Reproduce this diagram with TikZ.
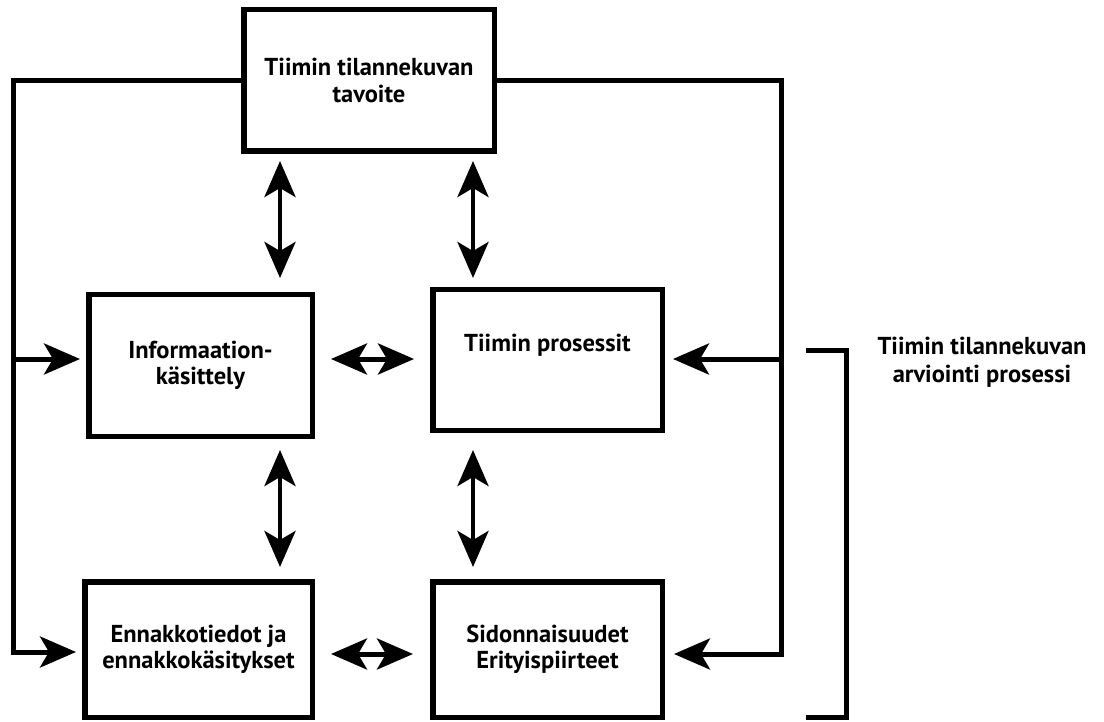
\documentclass[tikz,border=0pt]{standalone}
\usepackage{fontspec}
\setmainfont{PT Sans}
\usetikzlibrary{arrows.meta,calc}
\tikzset{
  box/.style={draw, line width=5.5pt, rectangle, align=center, inner sep=0pt,
    font=\bfseries\fontsize{24.5}{26.5}\selectfont},
  link/.style={line width=5pt, line join=miter},
  vlink/.style={line width=4.5pt},
  head/.style={-{Stealth[length=36pt,width=31pt,inset=9pt]}},
  dbl/.style={{Stealth[length=36pt,width=31pt,inset=9pt]}-{Stealth[length=36pt,width=31pt,inset=9pt]}},
  lbl/.style={align=center, inner sep=0pt, font=\bfseries\fontsize{24.5}{28}\selectfont}
}
\begin{document}
\begin{tikzpicture}[x=1pt,y=-1pt]
\useasboundingbox (0,0) rectangle (1104,722);
% boxes
\node[box, minimum width=250.5pt, minimum height=141.5pt] (top) at (369,80.5) {Tiimin tilannekuvan\\tavoite};
\node[box, minimum width=223.5pt, minimum height=141.5pt] (info) at (200.5,365.5) {Informaation-\\käsittely};
\node[box, minimum width=229.5pt, minimum height=140.5pt] (pro) at (547.5,360) {Tiimin prosessit\\\strut};
\node[box, minimum width=227.5pt, minimum height=135.5pt] (enn) at (198.5,649.5) {Ennakkotiedot ja\\ennakkokäsitykset};
\node[box, minimum width=229.5pt, minimum height=135.5pt] (sid) at (547.5,649.5) {Sidonnaisuudet\\Erityispiirteet};
\node[lbl] (brk) at (982,362) {Tiimin tilannekuvan\\arviointi prosessi};
% helper coordinates
\coordinate (L1) at (13.5,80.5);
\coordinate (L2) at (13.5,652);
\coordinate (lm) at (13.5,359);
\coordinate (R1) at (781,80.5);
\coordinate (R2) at (781,654);
\coordinate (rm) at (781,359);
\coordinate (m1) at (0,359);
\coordinate (m2) at (0,654);
\coordinate (c1) at (280,0);
\coordinate (c2) at (473,0);
\coordinate (b1) at (806,350);
\coordinate (b2) at (846.5,350);
\coordinate (b3) at (846.5,717);
\coordinate (b4) at (806,717);
% outer feedback lines
\draw[link, head, shorten >=6pt] (top.west) -- (L1) -- (L2) -- (L2 -| enn.west);
\draw[link, head, shorten >=6pt] (lm) -- (lm -| info.west);
\draw[link, head, shorten >=9pt] (top.east) -- (R1) -- (R2) -- (R2 -| sid.east);
\draw[link, head, shorten >=8pt] (rm) -- (rm -| pro.east);
% horizontal double arrows
\draw[link, dbl, shorten <=16pt, shorten >=16pt] (info.east |- m1) -- (pro.west |- m1);
\draw[link, dbl, shorten <=16pt, shorten >=17pt] (enn.east |- m2) -- (sid.west |- m2);
% vertical double arrows
\draw[vlink, dbl, shorten <=7pt, shorten >=14pt] (top.south -| c1) -- (info.north -| c1);
\draw[vlink, dbl, shorten <=7pt, shorten >=9pt] (top.south -| c2) -- (pro.north -| c2);
\draw[vlink, dbl, shorten <=11pt, shorten >=12pt] (info.south -| c1) -- (enn.north -| c1);
\draw[vlink, dbl, shorten <=17pt, shorten >=12pt] (pro.south -| c2) -- (sid.north -| c2);
% bracket
\draw[link] (b1) -- (b2) -- (b3) -- (b4);
\end{tikzpicture}
\end{document}
